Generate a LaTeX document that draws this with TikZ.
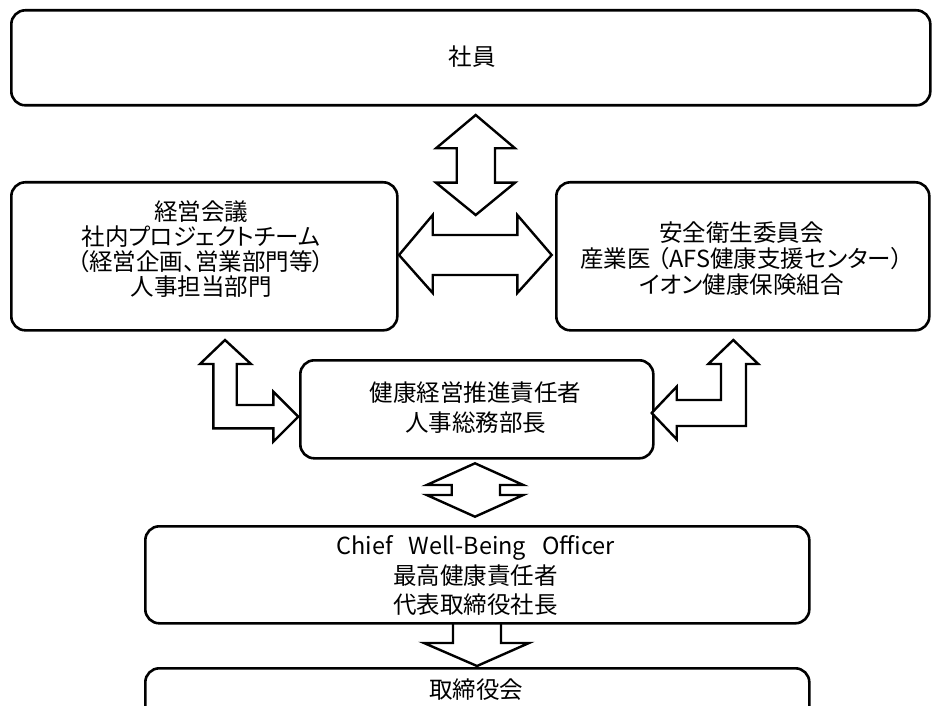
\documentclass[tikz,border=0pt]{standalone}
\usepackage{fontspec}
\setmainfont{Noto Sans CJK JP}[RawFeature=+palt]
\begin{document}
\begin{tikzpicture}[x=1pt,y=-1pt,
  box/.style={draw, line width=2.6pt, rounded corners=14pt, inner sep=0pt, anchor=north west},
  blk/.style={draw, line width=2.4pt, fill=white, line join=miter},
  txt/.style={align=center, font=\fontsize{23.5}{#1}\selectfont, inner sep=0pt},
]
\useasboundingbox (0,0) rectangle (932,706);
\clip (0,0) rectangle (932,706);

% boxes
\node[box, minimum width=919pt, minimum height=95pt] (staff) at (10,9) {};
\node[box, minimum width=386pt, minimum height=148pt] (mgmt) at (10,181) {};
\node[box, minimum width=373pt, minimum height=148pt] (safety) at (555,181) {};
\node[box, minimum width=353pt, minimum height=98pt] (promo) at (299,359) {};
\node[box, minimum width=664pt, minimum height=97pt] (cwo) at (144,525) {};
\node[box, minimum width=664pt, minimum height=90pt] (board) at (144,667) {};

% texts
\node[txt=28] (stafft) at (472,57) {社員};
\node[txt=25] (mgmtt) at (201,249.5) {経営会議\\社内プロジェクトチーム\\（経営企画、営業部門等）\\人事担当部門};
\node[txt=26.3] (safetyt) at (741.5,258.5) {安全衛生委員会\\産業医\hspace{0.3em}（AFS健康支援センター）\\イオン健康保険組合};
\node[txt=30] (promot) at (475.5,408) {健康経営推進責任者\\人事総務部長};
\node[txt=29.5] (cwot) at (475.5,575.5) {Chief\ \hspace{0.45em}Well-Being\ \hspace{0.45em}Officer\\最高健康責任者\\代表取締役社長};
\node[txt=28] (boardt) at (476,690) {取締役会};

% block arrows
\draw[blk] (475.7,115) -- (515,148.3) -- (495,148.3) -- (495,182.7) -- (515,182.7)
  -- (475.7,215) -- (436,182.7) -- (456.7,182.7) -- (456.7,148.3) -- (436,148.3) -- cycle;
\draw[blk] (399,255) -- (432.7,215) -- (432.7,235) -- (517.3,235) -- (517.3,215)
  -- (551.7,255) -- (517.3,293) -- (517.3,275) -- (432.7,275) -- (432.7,293) -- cycle;
\draw[blk] (225,340) -- (251,364) -- (236.7,364) -- (236.7,405) -- (273.3,405)
  -- (273.3,391.7) -- (298.3,416.7) -- (273.3,441.7) -- (273.3,428.3) -- (213.3,428.3)
  -- (213.3,364) -- (200,364) -- cycle;
\draw[blk] (733.3,340) -- (758.3,364) -- (746,364) -- (746,426) -- (676.7,426)
  -- (676.7,439.3) -- (651.7,413) -- (676.7,386.7) -- (676.7,400) -- (721,400)
  -- (721,364) -- (708.3,364) -- cycle;
\draw[blk] (475,463.3) -- (523.3,485) -- (500,485) -- (500,495) -- (523.3,495)
  -- (475,516.7) -- (426.7,495) -- (451.7,495) -- (451.7,485) -- (426.7,485) -- cycle;
\draw[blk, fill=none] (453,622) -- (453,643) -- (424,643) -- (477,666) -- (529,643)
  -- (501,643) -- (501,622);
\end{tikzpicture}
\end{document}
